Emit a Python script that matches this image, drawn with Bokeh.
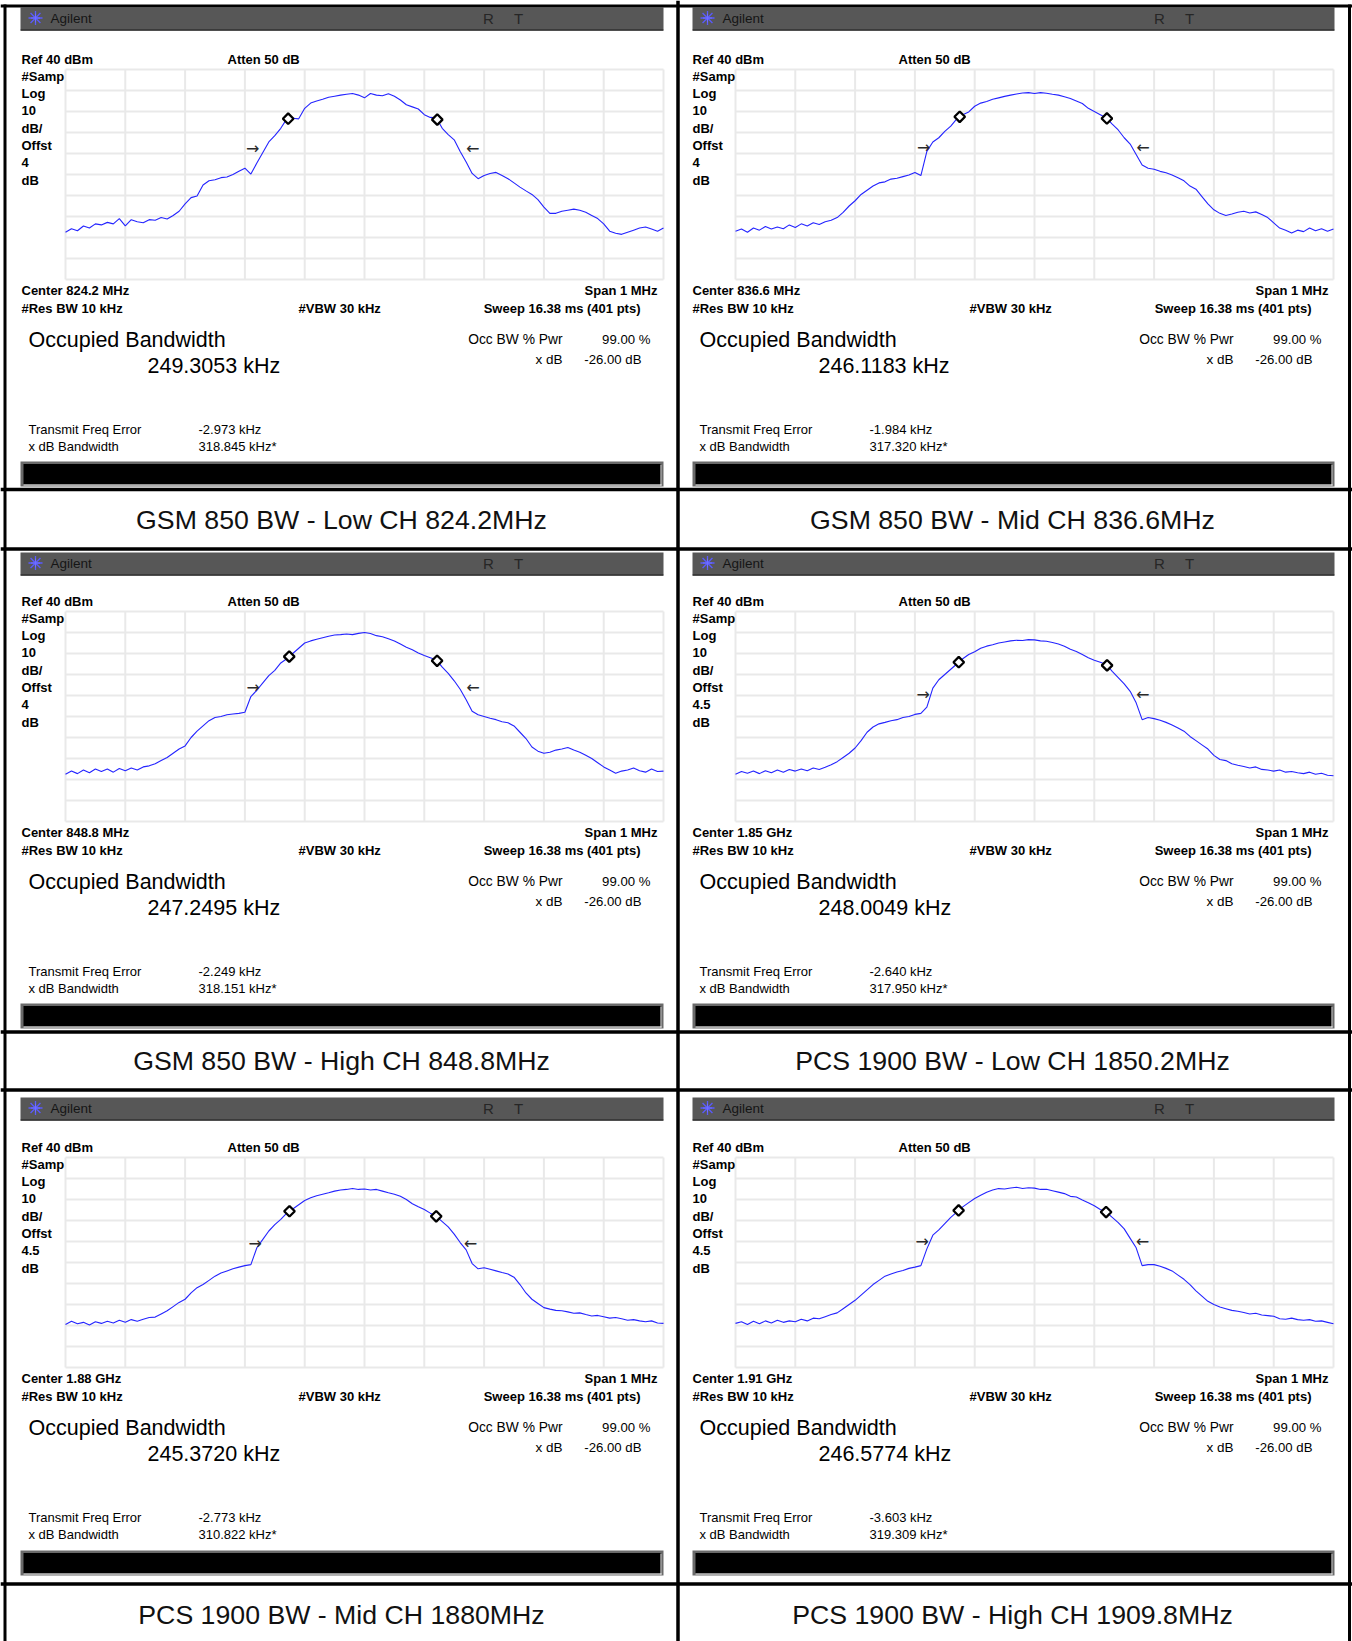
import numpy as np
from bokeh.plotting import figure
from bokeh.models import Range1d, Label
from bokeh.embed import file_html
from bokeh.resources import INLINE
from bokeh.core.properties import value

# ------------------------------------------------------------------ data
FREQ_OFFSET_KHZ = list(range(-500, 501, 10))

TRACE_GSM_LOW = [
    -37.5, -35.8, -36.8, -34.5, -35.5, -33.5, -34.0, -32.8, -33.5, -31.0,
    -34.5, -31.5, -32.5, -33.0, -31.5, -31.8, -30.5, -31.2, -29.5, -27.5,
    -24.0, -21.0, -20.2, -15.0, -13.0, -12.5, -11.5, -11.2, -10.0, -8.5,
    -7.0, -9.8, -4.5, 0.5, 5.5, 8.5, 12.0, 16.5, 16.8, 16.5,
    21.5, 24.0, 25.0, 25.8, 26.8, 27.3, 27.8, 28.2, 28.6, 27.8,
    26.5,
    28.6, 27.8, 27.5, 28.5, 27.3, 25.5, 23.2, 22.2, 21.2, 18.5,
    17.2, 17.0, 12.0, 9.0, 6.5, 1.0, -4.0, -9.5, -12.0, -10.5,
    -9.5, -9.0, -10.5, -12.0, -14.0, -16.0, -17.8, -19.5, -22.0, -25.5,
    -28.5, -28.5, -27.5, -27.0, -26.5, -27.0, -28.0, -29.5, -31.0, -33.5,
    -37.0, -38.0, -38.5, -37.5, -36.5, -35.5, -35.0, -36.0, -37.0, -35.5]

TRACE_GSM_MID = [
    -37.0, -36.0, -37.5, -35.5, -36.5, -34.8, -36.0, -35.0, -35.8, -34.0,
    -35.2, -33.5, -34.5, -33.0, -33.8, -32.5, -31.8, -30.5, -28.0, -25.0,
    -22.5, -19.5, -17.5, -15.5, -14.0, -13.5, -12.2, -11.8, -11.0, -10.2,
    -9.0, -10.5, 1.0, 5.5, 7.5, 10.5, 13.0, 16.5, 18.5, 19.8,
    22.5, 24.0, 24.8, 25.8, 26.5, 27.2, 27.8, 28.3, 28.8, 29.0,
    28.6,
    29.0, 28.7, 28.2, 27.8, 27.0, 26.2, 25.0, 23.8, 21.5, 20.0,
    18.5, 17.0, 14.0, 11.2, 7.5, 4.5, -0.5, -5.5, -7.0, -7.5,
    -8.5, -9.2, -10.2, -11.5, -13.0, -15.5, -17.0, -20.5, -24.0, -26.8,
    -28.5, -29.5, -28.8, -28.0, -27.5, -28.3, -27.8, -29.0, -30.5, -33.0,
    -35.5, -36.5, -37.8, -36.5, -37.2, -35.5, -36.8, -35.8, -37.0, -36.0]

TRACE_GSM_HIGH = [
    -37.5, -36.0, -37.2, -35.5, -36.8, -35.0, -36.2, -35.0, -36.5, -34.8,
    -35.8, -34.5, -35.5, -34.0, -33.5, -32.5, -31.0, -29.5, -27.5, -25.5,
    -24.0, -20.0, -17.0, -14.5, -12.0, -10.5, -10.0, -9.2, -8.8, -8.5,
    -8.0, -0.5, 2.5, 6.0, 9.5, 12.0, 15.5, 17.5, 20.0, 22.5,
    25.0, 26.0, 26.8, 27.5, 28.2, 28.8, 29.0, 29.3, 29.0, 29.6,
    30.0,
    29.5, 28.5, 28.0, 27.0, 26.0, 24.5, 23.0, 21.8, 20.2, 19.0,
    18.0, 17.0, 13.5, 10.5, 7.0, 3.0, -2.0, -7.5, -9.2, -10.0,
    -10.8, -11.5, -12.5, -13.0, -14.5, -17.5, -20.5, -24.5, -26.5, -27.5,
    -27.0, -26.0, -25.5, -24.8, -26.0, -27.0, -28.5, -30.0, -32.0, -34.0,
    -35.5, -37.0, -36.0, -35.5, -34.5, -35.8, -36.5, -35.0, -36.2, -36.0]

TRACE_PCS_LOW = [
    -37.5, -36.2, -37.0, -36.0, -37.2, -35.8, -36.8, -35.5, -36.5, -35.2,
    -36.0, -35.0, -35.8, -34.5, -35.2, -34.2, -33.0, -31.5, -29.5, -27.5,
    -25.0, -21.5, -17.5, -15.0, -13.5, -12.8, -12.0, -11.5, -10.5, -10.0,
    -9.0, -8.5, -5.5, 3.5, 7.5, 10.0, 12.5, 15.0, 17.5, 19.5,
    20.8, 22.5, 23.5, 24.2, 25.0, 25.5, 26.0, 26.3, 26.2, 26.6,
    26.5,
    26.0, 25.8, 25.2, 24.5, 23.5, 22.0, 21.0, 19.5, 18.0, 16.8,
    15.8, 14.8, 11.5, 8.5, 5.5, 2.0, -3.5, -11.5, -10.5, -11.0,
    -11.8, -12.8, -14.0, -15.5, -17.0, -19.5, -21.5, -23.5, -25.5, -28.5,
    -30.5, -31.0, -32.5, -33.2, -33.8, -34.5, -34.0, -35.2, -35.5, -36.0,
    -35.5, -36.5, -36.2, -36.8, -37.2, -36.5, -37.5, -37.0, -38.0, -38.2]

TRACE_PCS_MID = [
    -39.5, -38.0, -39.2, -38.5, -39.8, -38.2, -39.0, -38.0, -38.8, -37.5,
    -38.5, -37.2, -38.0, -37.0, -36.2, -36.0, -34.5, -33.0, -31.0, -29.0,
    -27.5, -24.5, -22.0, -20.5, -18.5, -16.5, -15.0, -14.0, -13.0, -12.2,
    -11.5, -11.0, -3.0, 1.0, 5.0, 8.0, 10.5, 13.5, 15.5, 17.5,
    19.5, 20.8, 21.8, 22.5, 23.2, 24.0, 24.5, 24.8, 25.2, 24.8,
    25.0,
    24.5, 24.8, 24.0, 23.2, 22.5, 21.5, 20.0, 18.0, 16.5, 15.2,
    13.5, 12.0, 9.5, 7.0, 3.5, -0.5, -4.0, -10.5, -13.0, -12.5,
    -13.2, -14.0, -14.8, -15.5, -17.0, -20.5, -24.5, -27.5, -29.5, -31.5,
    -32.2, -32.8, -33.0, -33.5, -34.2, -34.0, -34.8, -35.5, -35.2, -35.8,
    -36.5, -36.2, -36.8, -37.5, -37.2, -37.8, -38.2, -37.8, -38.8, -39.0]

TRACE_PCS_HIGH = [
    -39.0, -38.2, -39.5, -38.0, -39.2, -37.8, -38.8, -37.5, -38.5, -37.8,
    -38.2, -37.0, -37.8, -36.5, -36.8, -35.8, -34.8, -34.0, -32.0, -30.0,
    -28.0, -25.5, -23.0, -20.5, -18.5, -16.5, -15.5, -14.5, -13.8, -12.8,
    -12.2, -11.5, -3.5, 3.0, 5.5, 8.5, 11.5, 14.0, 16.5, 18.5,
    20.5, 22.0, 23.5, 24.5, 25.2, 25.0, 25.5, 25.8, 25.2, 25.6,
    25.4,
    24.8, 24.9, 24.2, 23.5, 22.8, 21.5, 21.2, 19.8, 18.5, 17.0,
    15.2, 14.0, 11.5, 9.0, 6.0, 1.5, -3.0, -11.5, -11.0, -11.0,
    -11.8, -12.8, -14.0, -16.0, -18.0, -20.5, -23.5, -26.0, -28.5, -30.0,
    -31.2, -32.0, -32.8, -33.2, -33.8, -34.5, -34.2, -35.0, -35.3, -35.6,
    -36.8, -37.0, -36.5, -37.2, -37.5, -37.2, -38.0, -37.8, -38.5, -39.2]

CENTER_LABELS = ["Center 824.2 MHz", "Center 836.6 MHz", "Center 848.8 MHz",
                 "Center 1.85 GHz", "Center 1.88 GHz", "Center 1.91 GHz"]
OFFSET_LABELS = ["4", "4", "4", "4.5", "4.5", "4.5"]
OCC_BW_KHZ = [249.3053, 246.1183, 247.2495, 248.0049, 245.3720, 246.5774]
FREQ_ERROR_KHZ = [-2.973, -1.984, -2.249, -2.640, -2.773, -3.603]
XDB_BW_KHZ = [318.845, 317.320, 318.151, 317.950, 310.822, 319.309]
CAPTIONS = ["GSM 850 BW - Low CH 824.2MHz", "GSM 850 BW - Mid CH 836.6MHz",
            "GSM 850 BW - High CH 848.8MHz", "PCS 1900 BW - Low CH 1850.2MHz",
            "PCS 1900 BW - Mid CH 1880MHz", "PCS 1900 BW - High CH 1909.8MHz"]
X_DB = -26.00
OCC_PCT = 99.00
REF_LEVEL_DBM = 40
DB_PER_DIV = 10
SPAN_KHZ = 1000
GRID_X_KHZ = list(range(-500, 501, 100))
GRID_Y_DBM = list(range(-60, 41, 10))

TRACES = [TRACE_GSM_LOW, TRACE_GSM_MID, TRACE_GSM_HIGH,
          TRACE_PCS_LOW, TRACE_PCS_MID, TRACE_PCS_HIGH]

# ------------------------------------------------------------------ layout (page pixels)
X0, Y0, W, H = 0, 0, 1352, 1641
GRID_W, GRID_H = 598, 210
GRID_LEFT = [65, 735]
GRID_TOP = [69, 611, 1157]
TXT_DX = [0, 671]
TXT_DY = [0, 542, 1088]
HDR_L = [20, 692]
HDR_R = [663, 1334]
HDR_TOP = [7, 552, 1097]
BAR_TOP = [461, 1003, 1550]
HLINES = [489, 548.5, 1031.5, 1089.5, 1583.5]
CAP_MID = [519.5, 1060.5, 1614.5]
CAP_CX = [341, 1012]
FONT = "Liberation Sans"

p = figure(width=W, height=H, output_backend="svg", toolbar_location=None,
           x_range=Range1d(X0, X0 + W), y_range=Range1d(Y0 + H, Y0),
           x_axis_location=None, y_axis_location=None, min_border=0,
           background_fill_color="white", border_fill_color="white",
           outline_line_color=None)
p.grid.visible = False

kx = SPAN_KHZ / GRID_W
ky = DB_PER_DIV * 10 / GRID_H
xr, yr = {}, {}
for i in range(6):
    r, c = divmod(i, 2)
    gl, gt = GRID_LEFT[c], GRID_TOP[r]
    xr[f"x{i}"] = Range1d(-SPAN_KHZ / 2 - (gl - X0) * kx,
                          SPAN_KHZ / 2 + (X0 + W - gl - GRID_W) * kx)
    yr[f"y{i}"] = Range1d(REF_LEVEL_DBM - 100 - (Y0 + H - gt - GRID_H) * ky,
                          REF_LEVEL_DBM + (gt - Y0) * ky)
p.extra_x_ranges = xr
p.extra_y_ranges = yr


def add_text(x, y, s, size, bold=False, align="left", color="#000000", font=FONT):
    p.add_layout(Label(x=x, y=y, text=s, text_font=font, text_font_size=f"{size}px",
                       text_font_style="bold" if bold else "normal",
                       text_align=align, text_baseline="middle",
                       text_color=color))


for i in range(6):
    r, c = divmod(i, 2)
    dx, dy = TXT_DX[c], TXT_DY[r]
    hl, hr, ht = HDR_L[c], HDR_R[c], HDR_TOP[r]
    bt = BAR_TOP[r]
    xn, yn = f"x{i}", f"y{i}"
    trace = TRACES[i]

    # header bar
    p.quad(left=[hl], right=[hr], top=[ht], bottom=[ht + 22],
           fill_color="#575757", line_color=None)
    p.segment(x0=[hl], y0=[ht + 22.5], x1=[hr], y1=[ht + 22.5],
              line_color="#151515", line_width=1.5)
    p.scatter(x=[hl + 15], y=[ht + 10.5], marker="asterisk", size=14,
              line_color="#5a5aff", line_width=1.3)
    p.scatter(x=[hl + 15], y=[ht + 10.5], marker="cross", size=9,
              line_color="#7070ff", line_width=1)
    add_text(hl + 30, ht + 10.5, "Agilent", 13.5, color="#151515")
    add_text(488 + dx, ht + 11, "R", 15, align="center", color="#262626")
    add_text(518 + dx, ht + 11, "T", 15, align="center", color="#262626")

    # bottom black bar
    p.quad(left=[hl], right=[hr], top=[bt], bottom=[bt + 25],
           fill_color="#6a6a6a", line_color=None)
    p.quad(left=[hl + 3], right=[hr - 2], top=[bt + 2.5], bottom=[bt + 23],
           fill_color="#000000", line_color=None)
    p.segment(x0=[hl + 3, hr - 2.5], y0=[bt + 23.5, bt + 3],
              x1=[hr - 2, hr - 2.5], y1=[bt + 23.5, bt + 24],
              line_color="#f2f2f2", line_width=1)

    # graticule
    n = len(GRID_X_KHZ)
    p.segment(x0=GRID_X_KHZ, y0=[GRID_Y_DBM[0]] * n, x1=GRID_X_KHZ, y1=[GRID_Y_DBM[-1]] * n,
              x_range_name=xn, y_range_name=yn, line_color="#e9e9e9", line_width=2)
    m = len(GRID_Y_DBM)
    p.segment(x0=[GRID_X_KHZ[0]] * m, y0=GRID_Y_DBM, x1=[GRID_X_KHZ[-1]] * m, y1=GRID_Y_DBM,
              x_range_name=xn, y_range_name=yn, line_color="#e9e9e9", line_width=2)

    # trace
    p.line(x=FREQ_OFFSET_KHZ, y=trace, x_range_name=xn, y_range_name=yn,
           line_color="#2424ff", line_width=1.1)

    # occupied-bandwidth markers
    fm = [FREQ_ERROR_KHZ[i] - OCC_BW_KHZ[i] / 2, FREQ_ERROR_KHZ[i] + OCC_BW_KHZ[i] / 2]
    ym = list(np.interp(fm, FREQ_OFFSET_KHZ, trace))
    p.scatter(x=fm, y=ym, marker="square", angle=np.pi / 4, size=7.5,
              fill_color="white", line_color="black", line_width=2.3,
              x_range_name=xn, y_range_name=yn)

    # x dB bandwidth arrows
    lvl = max(trace) + X_DB
    e1 = FREQ_ERROR_KHZ[i] - XDB_BW_KHZ[i] / 2
    e2 = FREQ_ERROR_KHZ[i] + XDB_BW_KHZ[i] / 2
    p.text(x=[e1], y=[lvl], text=["\u2192"], text_align="right", text_baseline="middle",
           x_offset=-8, text_font=value("DejaVu Sans"), text_font_size=value("16px"),
           text_color="#2a2a2a", x_range_name=xn, y_range_name=yn)
    p.text(x=[e2], y=[lvl], text=["\u2190"], text_align="left", text_baseline="middle",
           x_offset=8, text_font=value("DejaVu Sans"), text_font_size=value("16px"),
           text_color="#2a2a2a", x_range_name=xn, y_range_name=yn)

    # annotations (y = vertical middle of each text line)
    add_text(21 + dx, 58.5 + dy, f"Ref {REF_LEVEL_DBM} dBm", 13, bold=True)
    add_text(227 + dx, 58.5 + dy, "Atten 50 dB", 13, bold=True)
    for k, s in enumerate(["#Samp", "Log", f"{DB_PER_DIV}", "dB/", "Offst",
                           OFFSET_LABELS[i], "dB"]):
        add_text(21 + dx, 58.5 + 17.3 * (k + 1) + dy, s, 13, bold=True)
    add_text(21 + dx, 289.5 + dy, CENTER_LABELS[i], 13, bold=True)
    add_text(657 + dx, 289.5 + dy, f"Span {SPAN_KHZ // 1000} MHz", 13, bold=True, align="right")
    add_text(21 + dx, 307.5 + dy, "#Res BW 10 kHz", 13, bold=True)
    add_text(298 + dx, 307.5 + dy, "#VBW 30 kHz", 13, bold=True)
    add_text(640 + dx, 307.5 + dy, "Sweep 16.38 ms (401 pts)", 13, bold=True, align="right")
    add_text(28 + dx, 339 + dy, "Occupied Bandwidth", 21.5)
    add_text(147 + dx, 365 + dy, f"{OCC_BW_KHZ[i]:.4f} kHz", 21.5)
    add_text(562 + dx, 338.5 + dy, "Occ BW % Pwr", 13.8, align="right")
    add_text(650 + dx, 338.5 + dy, f"{OCC_PCT:.2f} %", 13.2, align="right")
    add_text(562 + dx, 358.5 + dy, "x dB", 13.5, align="right")
    add_text(641 + dx, 358.5 + dy, f"{X_DB:.2f} dB", 13.2, align="right")
    add_text(28 + dx, 428.5 + dy, "Transmit Freq Error", 13)
    add_text(198 + dx, 428.5 + dy, f"{FREQ_ERROR_KHZ[i]:.3f} kHz", 13)
    add_text(28 + dx, 446 + dy, "x dB Bandwidth", 13)
    add_text(198 + dx, 446 + dy, f"{XDB_BW_KHZ[i]:.3f} kHz*", 13)

    # caption
    add_text(CAP_CX[c], CAP_MID[r], CAPTIONS[i], 26.7, align="center", color="#111111")

# table borders
p.segment(x0=[0] * len(HLINES), y0=HLINES, x1=[1352] * len(HLINES), y1=HLINES,
          line_color="#000000", line_width=3.5)
p.segment(x0=[677.5], y0=[0], x1=[677.5], y1=[1641], line_color="#000000", line_width=3.5)
p.segment(x0=[0, 4.5, 1349], y0=[5.5, 4, 4], x1=[1352, 4.5, 1349], y1=[5.5, 1641, 1641],
          line_color="#000000", line_width=3)

open("out.html", "w").write(file_html(p, INLINE))
